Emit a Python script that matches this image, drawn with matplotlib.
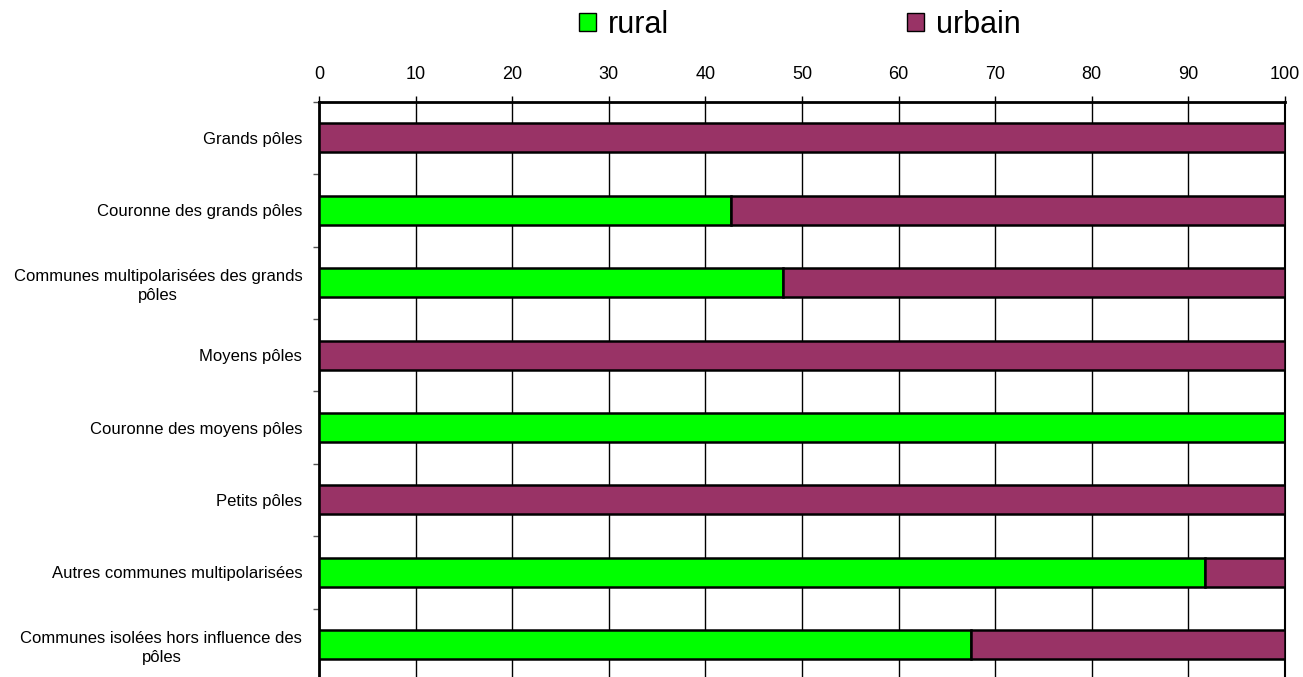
import matplotlib.pyplot as plt
from matplotlib.patches import Patch
import numpy as np

plt.rcParams['font.family'] = ['Liberation Sans', 'DejaVu Sans']

categories = [
    "Grands pôles",
    "Couronne des grands pôles",
    "Communes multipolarisées des grands\npôles",
    "Moyens pôles",
    "Couronne des moyens pôles",
    "Petits pôles",
    "Autres communes multipolarisées",
    "Communes isolées hors influence des\npôles",
]
rural = [0, 42.7, 48.0, 0, 100, 0, 91.7, 67.5]
urbain = [100 - r for r in rural]

green = '#00FF00'
purple = '#993366'

fig = plt.figure(figsize=(13.03, 6.77), dpi=100)
ax = fig.add_axes([319 / 1303, -4 / 677, 966 / 1303, 579.3 / 677])

y = np.arange(len(categories))
ax.barh(y, rural, height=0.4, color=green, edgecolor='black', linewidth=1.8, zorder=3)
ax.barh(y, urbain, left=rural, height=0.4, color=purple, edgecolor='black', linewidth=1.8, zorder=3)

ax.set_xlim(0, 100)
ax.set_ylim(len(categories) - 0.5, -0.5)
ax.set_xticks(np.arange(0, 101, 10))
ax.xaxis.tick_top()
ax.tick_params(axis='x', labelsize=13, length=4, width=1, pad=9.5, direction='out')

ax.set_yticks(y)
ax.set_yticklabels(categories, fontsize=12, multialignment='center', linespacing=1.3)
ax.set_yticks(np.arange(-0.5, len(categories), 1), minor=True)
ax.tick_params(axis='y', which='major', length=0, pad=12)
ax.tick_params(axis='y', which='minor', length=4, width=1, color='#555555')

ax.grid(axis='x', color='black', linewidth=1, zorder=0)
for s in ['top', 'left']:
    ax.spines[s].set_linewidth(2)
ax.spines['right'].set_linewidth(1.5)
ax.spines['bottom'].set_visible(False)

handles = [Patch(facecolor=green, edgecolor='black', label='rural'),
           Patch(facecolor=purple, edgecolor='black', label='urbain')]
fig.legend(handles=handles, loc='center', bbox_to_anchor=(800 / 1303, 1 - 25 / 677),
           ncol=2, frameon=False, fontsize=22, handlelength=0.55, handleheight=0.55,
           handletextpad=0.4, columnspacing=7.8)

fig.savefig('out.png', dpi=100)
